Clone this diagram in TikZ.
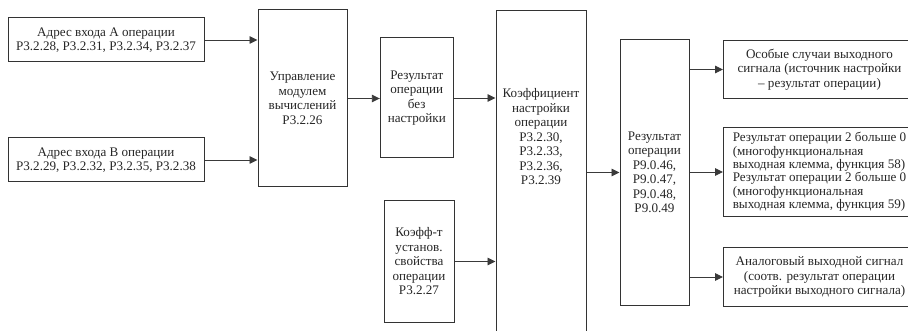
\documentclass[tikz,border=0pt]{standalone}
\usepackage{fontspec}
\setmainfont{Liberation Serif}
\usetikzlibrary{arrows.meta}
\definecolor{boxc}{HTML}{333333}
\definecolor{linec}{HTML}{3A3A3A}
\definecolor{txtc}{HTML}{262626}
\begin{document}
\begin{tikzpicture}[x=1pt,y=-1pt,
  txt/.style={inner sep=0pt, align=center, text=txtc, font=\fontsize{13.1}{14.5}\selectfont},
  tight/.style={font=\fontsize{13.1}{13.4}\selectfont},
  box/.style={txt, draw=boxc, line width=1pt, rectangle},
  conn/.style={draw=linec, line width=0.9pt, -{Triangle[length=8pt,width=7.5pt]}},
]
\useasboundingbox (0,0) rectangle (908,331);
\clip (0,0) rectangle (908,331);
\node[box, tight, minimum width=196pt, minimum height=44pt] (inA) at (106,40) {Адрес входа А операции\\Р3.2.28, Р3.2.31, Р3.2.34, Р3.2.37};
\node[box, tight, minimum width=196pt, minimum height=44pt] (inB) at (106,160) {Адрес входа В операции\\Р3.2.29, Р3.2.32, Р3.2.35, Р3.2.38};
\node[box, minimum width=89pt, minimum height=177pt] (ctrl) at (302.5,98.5) {Управление\\модулем\\вычислений\\Р3.2.26};
\node[box, minimum width=73pt, minimum height=120pt] (res) at (416.8,98) {Результат\\операции\\без\\настройки};
\node[box, minimum width=70pt, minimum height=121pt] (kset) at (419,261.5) {Коэфф-т\\установ.\\свойства\\операции\\Р3.2.27};
\node[box, minimum width=90pt, minimum height=340pt, anchor=north] (koef) at (541,10) {};
\node[txt] (koeftxt) at (541,137) {Коэффициент\\настройки\\операции\\Р3.2.30,\\Р3.2.33,\\Р3.2.36,\\Р3.2.39};
\node[box, minimum width=69pt, minimum height=265pt] (out) at (654.5,172.5) {Результат\\операции\\Р9.0.46,\\Р9.0.47,\\Р9.0.48,\\Р9.0.49};
\node[box, anchor=north west, minimum width=192pt, minimum height=58pt] (spec) at (723,40) {Особые случаи выходного\\сигнала (источник настройки\\– результат операции)};
\node[box, tight, anchor=north west, minimum width=192pt, minimum height=89pt, align=left] (cmp) at (723,127) {Результат операции 2 больше 0\\(многофункциональная\\выходная клемма, функция 58)\\Результат операции 2 больше 0\\(многофункциональная\\выходная клемма, функция 59)};
\node[box, anchor=north west, minimum width=192pt, minimum height=59pt] (ana) at (723,247) {Аналоговый выходной сигнал\\(соотв. результат операции\\настройки выходного сигнала)};
\draw[conn] (inA.east) -- (inA.east -| ctrl.west);
\draw[conn] (inB.east) -- (inB.east -| ctrl.west);
\draw[conn] (ctrl.east) -- (ctrl.east -| res.west);
\draw[conn] (res.east) -- (res.east -| koef.west);
\draw[conn] (kset.east) -- (kset.east -| koef.west);
\draw[conn] (koef.east |- out.west) -- (out.west);
\draw[conn] (out.east |- spec.west) -- (spec.west);
\draw[conn] (out.east |- cmp.west) -- (cmp.west);
\draw[conn] (out.east |- ana.west) -- (ana.west);
\end{tikzpicture}
\end{document}
